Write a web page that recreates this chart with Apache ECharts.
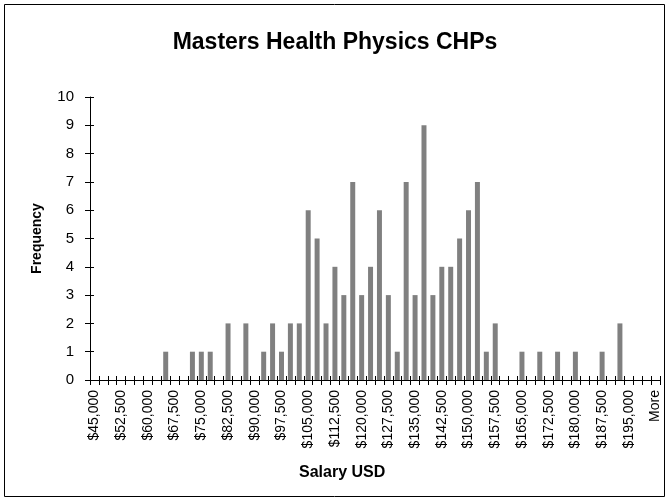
<!DOCTYPE html>
<html>
<head>
<meta charset="utf-8">
<script src="https://cdn.jsdelivr.net/npm/echarts@6/dist/echarts.min.js"></script>
<style>html,body{margin:0;padding:0;background:#fff}#c{width:670px;height:502px}</style>
</head>
<body>
<div id="c"></div>
<script>
// Bin upper bounds $45,000 ... $200,000 step 2,500, then "More"
const binValues = [];
for (let v = 45000; v <= 200000; v += 2500) binValues.push(v);
const categories = binValues.map(v => '$' + v.toLocaleString('en-US')).concat(['More']);

// Frequencies, one per bin
const frequency = [
  0,0,0,0,0,0,0,0,1,0,   // 45,000 - 67,500
  0,1,1,1,0,2,0,2,0,1,   // 70,000 - 92,500
  2,1,2,2,6,5,2,4,3,7,   // 95,000 - 117,500
  3,4,6,3,1,7,3,9,3,4,   // 120,000 - 142,500
  4,5,6,7,1,2,0,0,1,0,   // 145,000 - 167,500
  1,0,1,0,1,0,0,1,0,2,   // 170,000 - 192,500
  0,0,0,0                // 195,000 - More
];

const yTicks = { min: 0, max: 10, interval: 1 };

const chart = echarts.init(document.getElementById('c'));
const FONT = 'Liberation Sans, Arial, sans-serif';
chart.setOption({
  animation: false,
  title: {
    text: 'Masters Health Physics CHPs',
    left: 'center', top: 26,
    textStyle: { fontFamily: FONT, fontWeight: 'bold', fontSize: 23, color: '#000' }
  },
  graphic: [{
    type: 'rect', shape: { x: 4.5, y: 4.5, width: 660, height: 492 },
    style: { fill: 'none', stroke: '#000', lineWidth: 1 }, silent: true, z: -1
  }, {
    type: 'text', left: 299, top: 465,
    style: { text: 'Salary USD', font: 'bold 16px Liberation Sans, Arial, sans-serif', fill: '#000' },
    silent: true
  }],
  grid: { left: 90, right: 10, top: 97, bottom: 122, containLabel: false },
  xAxis: [{
    type: 'category', data: categories, boundaryGap: true,
    axisLine: { lineStyle: { color: '#000', width: 1 } },
    axisTick: { show: true, interval: 0, length: 5, lineStyle: { color: '#000' } },
    axisLabel: { interval: 2, rotate: 90, fontFamily: FONT, fontSize: 14, color: '#000', margin: 10 },
    splitLine: { show: false }
  }, {
    type: 'category', data: categories, boundaryGap: true, position: 'bottom',
    axisLine: { show: false },
    axisTick: { show: true, inside: true, interval: 0, length: 4, lineStyle: { color: '#000' } },
    axisLabel: { show: false }, splitLine: { show: false }
  }],
  yAxis: [{
    type: 'value', min: yTicks.min, max: yTicks.max, interval: yTicks.interval,
    name: 'Frequency', nameLocation: 'middle', nameGap: 46, nameRotate: 90,
    nameTextStyle: { fontFamily: FONT, fontWeight: 'bold', fontSize: 14, color: '#000' },
    axisLine: { show: true, lineStyle: { color: '#000', width: 1 } },
    axisTick: { show: true, length: 5, lineStyle: { color: '#000' } },
    axisLabel: { fontFamily: FONT, fontSize: 15, color: '#000', margin: 16 },
    splitLine: { show: false }
  }, {
    type: 'value', min: yTicks.min, max: yTicks.max, interval: yTicks.interval, position: 'left',
    axisLine: { show: false },
    axisTick: { show: true, inside: true, length: 4, lineStyle: { color: '#000' } },
    axisLabel: { show: false }, splitLine: { show: false }
  }],
  series: [{
    type: 'bar', data: frequency, xAxisIndex: 0, yAxisIndex: 0,
    barCategoryGap: '44%',
    itemStyle: { color: '#808080' }
  }]
});
</script>
</body>
</html>
